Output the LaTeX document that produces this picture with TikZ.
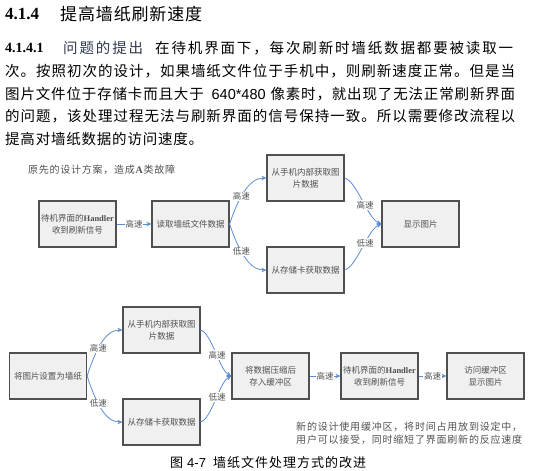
\documentclass[tikz,border=0pt]{standalone}
\usepackage{fontspec}
\setmainfont{Noto Sans CJK SC}
\newfontfamily\tnr{Liberation Serif}
\newfontfamily\lsans{Liberation Sans}
\usetikzlibrary{arrows.meta}
\definecolor{arr}{HTML}{5A8CD6}
\definecolor{bord}{HTML}{505050}
\definecolor{boxfill}{HTML}{F0F0F0}
\definecolor{txt}{HTML}{505050}
\definecolor{slate}{HTML}{2E3850}
\makeatletter
\def\sp@stop{}
\def\sp@endmark{\sp@stop}
\def\spreadline#1#2{\hbox to #1{\sp@loop#2\sp@stop}}
\def\sp@loop#1{\def\sp@arg{#1}\ifx\sp@arg\sp@endmark\unskip\else#1\hfil\expandafter\sp@loop\fi}
\makeatother
\begin{document}
\begin{tikzpicture}[x=1pt,y=-1pt,
  box/.style={draw=bord, fill=boxfill, line width=1.2pt, minimum width=77pt, minimum height=46pt, inner sep=1pt, align=center, text=txt, font=\fontsize{8.5}{12}\selectfont},
  conn/.style={draw=arr, line width=0.8pt, -{Stealth[length=5pt,width=4.5pt]}},
  lab/.style={fill=white, inner sep=0.8pt, text=txt, font=\fontsize{8.5}{10}\selectfont},
  para/.style={anchor=west, inner sep=0pt, font=\fontsize{14.5}{18}\selectfont},
  small/.style={anchor=west, inner sep=0pt, text=txt, font=\fontsize{10}{13}\selectfont}
]
\useasboundingbox (0,0) rectangle (536,471);
% heading
\node[anchor=west, inner sep=0pt, font=\tnr\bfseries\fontsize{17}{20}\selectfont] (h1) at (5,14) {4.1.4};
\node[anchor=west, inner sep=0pt, font=\fontsize{17}{20}\selectfont] (h2) at (60,14) {\spreadline{142pt}{提高墙纸刷新速度}};
% paragraph
\node[anchor=west, inner sep=0pt, font=\tnr\bfseries\fontsize{14}{18}\selectfont] (p0) at (5,48) {4.1.4.1};
\node[para, text=slate] (p1) at (63,48) {\spreadline{80pt}{问题的提出}};
\node[para] (p2) at (155,48) {\spreadline{358pt}{在待机界面下，每次刷新时墙纸数据都要被读取一}};
\node[para] (l2) at (5,71) {\spreadline{510pt}{次。按照初次的设计，如果墙纸文件位于手机中，则刷新速度正常。但是当}};
\node[para] (l3) at (5,94) {\spreadline{510pt}{图片文件位于存储卡而且大于{{\hspace{7pt}\lsans 640*480\hspace{4pt}}}像素时，就出现了无法正常刷新界面}};
\node[para] (l4) at (5,116.5) {\spreadline{510pt}{的问题，该处理过程无法与刷新界面的信号保持一致。所以需要修改流程以}};
\node[para] (l5) at (5,139) {\spreadline{198pt}{提高对墙纸数据的访问速度。}};
% top diagram
\node[small] (cap1) at (28,170) {\spreadline{147pt}{原先的设计方案，造成{{\tnr\bfseries A}}类故障}};
\node[box] (A) at (77.5,224) {待机界面的{\tnr\bfseries Handler}\\收到刷新信号};
\node[box] (B) at (190.5,224) {读取墙纸文件数据};
\node[box] (C1) at (305.5,178) {从手机内部获取图\\片数据};
\node[box] (C2) at (305.5,270) {从存储卡获取数据};
\node[box] (D) at (420.5,224) {显示图片};
\draw[conn] (A.east) -- node[lab]{高速} (B.west);
\draw[conn] (B.east) .. controls +(8,-24) and +(-18,0) .. node[lab, pos=0.42]{高速} (C1.west);
\draw[conn] (B.east) .. controls +(8,24) and +(-18,0) .. node[lab, pos=0.42]{低速} (C2.west);
\draw[conn] (C1.east) .. controls +(12,3) and +(-14,-6) .. node[lab, pos=0.58]{高速} (D.west);
\draw[conn] (C2.east) .. controls +(12,-3) and +(-14,6) .. node[lab, pos=0.58]{低速} (D.west);
% bottom diagram
\node[box] (E) at (48,376) {将图片设置为墙纸};
\node[box] (F1) at (161.5,330) {从手机内部获取图\\片数据};
\node[box] (F2) at (161.5,422) {从存储卡获取数据};
\node[box] (G) at (270.5,376) {将数据压缩后\\存入缓冲区};
\node[box] (H) at (379.5,376) {待机界面的{\tnr\bfseries Handler}\\收到刷新信号};
\node[box] (I) at (485.5,376) {访问缓冲区\\显示图片};
\draw[conn] (E.east) .. controls +(8,-24) and +(-18,0) .. node[lab, pos=0.42]{高速} (F1.west);
\draw[conn] (E.east) .. controls +(8,24) and +(-18,0) .. node[lab, pos=0.42]{低速} (F2.west);
\draw[conn] (F1.east) .. controls +(11,3) and +(-12,-6) .. node[lab, pos=0.55]{高速} (G.west);
\draw[conn] (F2.east) .. controls +(11,-3) and +(-12,6) .. node[lab, pos=0.55]{低速} (G.west);
\draw[conn] (G.east) -- node[lab]{高速} (H.west);
\draw[conn] (H.east) -- node[lab]{高速} (I.west);
\node[small] (n1) at (296,426.7) {\spreadline{226pt}{新的设计使用缓冲区，将时间占用放到设定中，}};
\node[small] (n2) at (296,440) {\spreadline{226pt}{用户可以接受，同时缩短了界面刷新的反应速度}};
% caption
\node[anchor=west, inner sep=0pt, font=\fontsize{13}{16}\selectfont] (c1) at (170,463) {图};
\node[anchor=west, inner sep=0pt, font=\lsans\fontsize{13}{16}\selectfont] (c2) at (187,463) {4-7};
\node[anchor=west, inner sep=0pt, font=\fontsize{13}{16}\selectfont] (c3) at (213,463) {\spreadline{153pt}{墙纸文件处理方式的改进}};
\end{tikzpicture}
\end{document}
